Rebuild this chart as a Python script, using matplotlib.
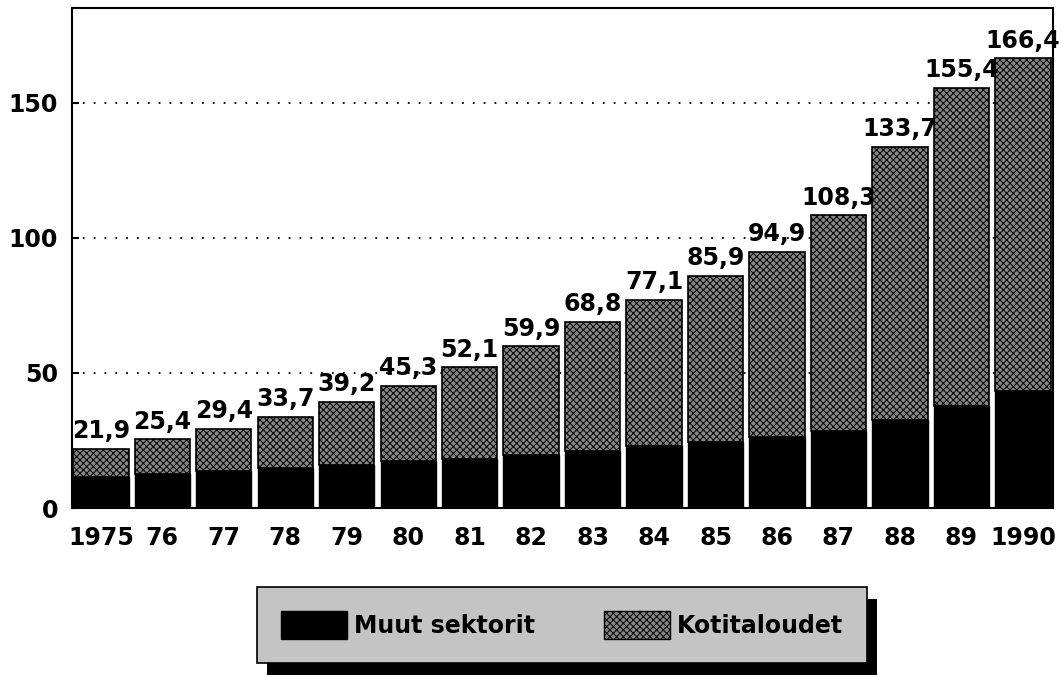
import numpy as np
import matplotlib
matplotlib.use('Agg')
import matplotlib.pyplot as plt
from matplotlib.patches import Patch, Rectangle

# data (mrd mk)
years = ['1975', '76', '77', '78', '79', '80', '81', '82',
         '83', '84', '85', '86', '87', '88', '89', '1990']
totals = [21.9, 25.4, 29.4, 33.7, 39.2, 45.3, 52.1, 59.9,
          68.8, 77.1, 85.9, 94.9, 108.3, 133.7, 155.4, 166.4]
muut = [11.3, 12.4, 13.7, 14.8, 15.8, 17.3, 18.3, 19.5,
        21.2, 23.0, 24.5, 26.3, 28.4, 32.4, 37.8, 43.4]
kotitaloudet = [t - m for t, m in zip(totals, muut)]
total_labels = ['21,9', '25,4', '29,4', '33,7', '39,2', '45,3', '52,1', '59,9',
                '68,8', '77,1', '85,9', '94,9', '108,3', '133,7', '155,4', '166,4']

plt.rcParams['font.family'] = 'DejaVu Sans'
plt.rcParams['font.weight'] = 'bold'
plt.rcParams['hatch.linewidth'] = 0.7

W, H = 1064, 678
fig = plt.figure(figsize=(W / 100, H / 100), dpi=100)
ax = fig.add_axes([72 / W, 1 - 508 / H, (1053 - 72) / W, 500 / H])

x = np.arange(len(years))
bw = 0.9
gray = '#858585'

ax.bar(x, muut, bw, color='black', edgecolor='black', linewidth=1, zorder=3)
ax.bar(x, kotitaloudet, bw, bottom=muut, color=gray, edgecolor='black',
       hatch='xxxxx', linewidth=1.2, zorder=3)

for xi, t, lab in zip(x, totals, total_labels):
    ax.annotate(lab, (xi, t), xytext=(0, 4), textcoords='offset points',
                ha='center', va='bottom', fontsize=17, fontweight='bold', zorder=4)

ax.set_xlim(-0.47, 15.49)
ax.set_ylim(0, 185)
ax.set_yticks([0, 50, 100, 150])
ax.set_yticklabels(['0', '50', '100', '150'], fontsize=17, fontweight='bold')
ax.set_xticks(x)
ax.set_xticklabels(years, fontsize=17, fontweight='bold')
ax.tick_params(axis='y', direction='in', length=5, width=1.5, pad=10)
ax.tick_params(axis='x', length=0, pad=13)
for sp in ax.spines.values():
    sp.set_linewidth(1.5)
ax.yaxis.grid(True, linestyle=(0, (1, 5)), color='black', linewidth=1.3, zorder=0)
ax.set_axisbelow(True)

handles = [Patch(facecolor='black', edgecolor='black'),
           Patch(facecolor=gray, edgecolor='black', hatch='xxxxx')]
leg = fig.legend(handles, ['Muut sektorit', 'Kotitaloudet'], loc='center',
                 bbox_to_anchor=(562 / W, 1 - 625 / H), ncol=2, frameon=True,
                 fancybox=False, edgecolor='black', facecolor='#c4c4c4',
                 prop={'weight': 'bold', 'size': 17}, handlelength=2.8,
                 handleheight=1.5, borderpad=1.0, columnspacing=2.9,
                 handletextpad=0.3, framealpha=1)
leg.get_frame().set_linewidth(1.2)
leg.set_zorder(5)

fig.canvas.draw()
bb = leg.get_window_extent().transformed(fig.transFigure.inverted())
shadow = Rectangle((bb.x0 + 10 / W, bb.y0 - 12 / H), bb.width, bb.height,
                   transform=fig.transFigure, facecolor='black', zorder=4)
fig.add_artist(shadow)

fig.savefig('out.png', dpi=100)
